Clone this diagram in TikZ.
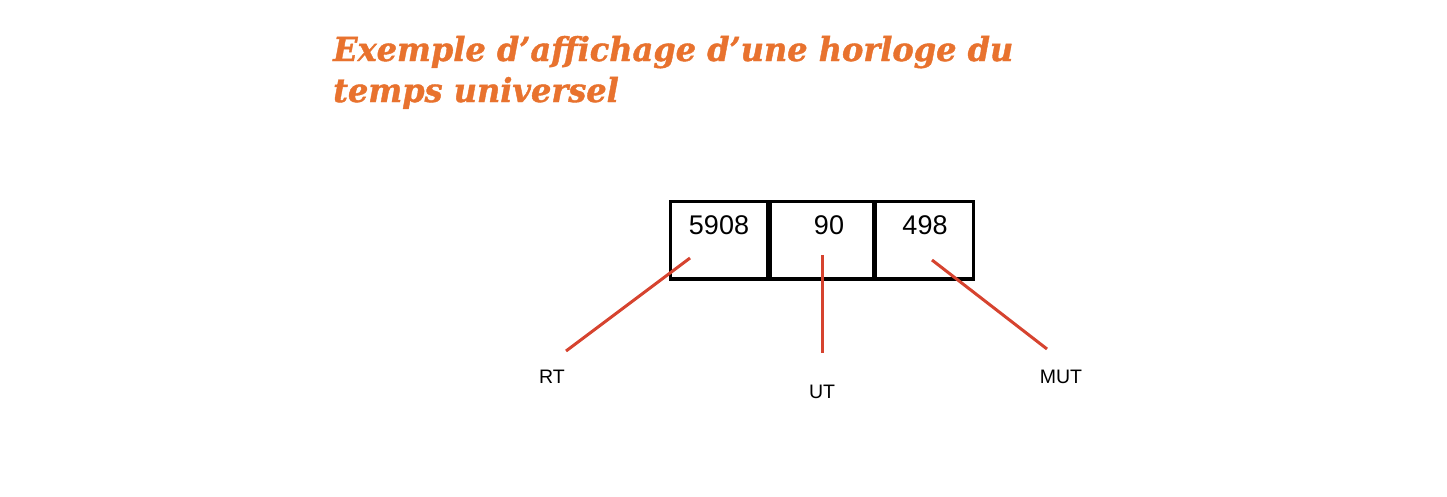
\documentclass[tikz,border=0pt]{standalone}
\usepackage{fontspec}
\setmainfont{Liberation Sans}
\newfontfamily\titlefont[BoldItalicFeatures={FakeBold=1.2}]{DejaVu Serif}
\definecolor{titleorange}{HTML}{E8722E}
\definecolor{linered}{HTML}{D6432F}
\begin{document}
\begin{tikzpicture}[x=1pt,y=-1pt,
  cell/.style={draw=black,line width=3.2pt,minimum height=77.5pt,inner sep=0pt},
  num/.style={font=\fontsize{27}{30}\selectfont,inner sep=0pt},
  lbl/.style={font=\fontsize{19.5}{22}\selectfont,inner sep=0pt},
  pointer/.style={draw=linered,line width=3pt},
  ttl/.style={font=\titlefont\bfseries\itshape\fontsize{33}{36}\selectfont,text=titleorange,inner sep=0pt,anchor=base west,xscale=0.97,transform shape}]
\useasboundingbox (0,0) rectangle (1447,496);
\node[ttl] (t1) at (333,61) {Exemple d’affichage d’une horloge du};
\node[ttl] (t2) at (333,102) {temps universel};
\node[cell,minimum width=96.8pt] (b1) at (718.75,240.25) {};
\node[cell,minimum width=103.2pt] (b2) at (821.5,240.25) {};
\node[cell,minimum width=97.8pt] (b3) at (924.75,240.25) {};
\node[num] (n1) at (719,225) {5908};
\node[num] (n2) at (829,225) {90};
\node[num] (n3) at (925,225) {498};
\node[lbl] (rt) at (552,377) {RT};
\node[lbl] (ut) at (822,392) {UT};
\node[lbl] (mut) at (1061,377) {MUT};
\coordinate (p1) at (690,258);
\coordinate (q1) at (566,351);
\coordinate (p2) at (822,255);
\coordinate (q2) at (822,353);
\coordinate (p3) at (932,260);
\coordinate (q3) at (1047,349);
\draw[pointer] (p1) -- (q1);
\draw[pointer] (p2) -- (q2);
\draw[pointer] (p3) -- (q3);
\end{tikzpicture}
\end{document}
